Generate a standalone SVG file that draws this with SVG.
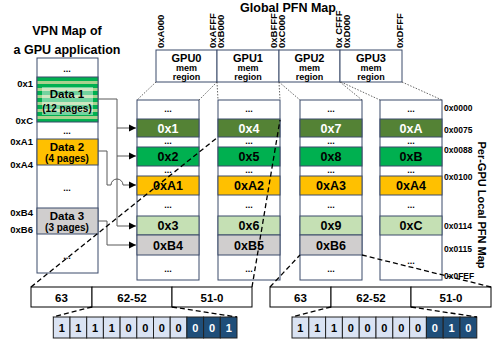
<svg xmlns="http://www.w3.org/2000/svg" width="492" height="347" viewBox="0 0 492 347">
<style>
.t{font-family:"Liberation Sans",Arial,sans-serif;font-weight:bold;fill:#000}
.m{text-anchor:middle}
.e{text-anchor:end}
.w{fill:#fff}
.cell{stroke:#3b4a6b;stroke-width:1}
.wh{fill:#fff}
.dg{fill:#548235}
.gr{fill:#00b050}
.ye{fill:#ffc000}
.lg{fill:#c5e0b4}
.gy{fill:#d0cece}
.bl{fill:#dae3f3;stroke:#222;stroke-width:1}
.bd{fill:#1f4e79;stroke:#222;stroke-width:1}
.dot{stroke:#555;stroke-width:0.9;stroke-dasharray:1.5 1.5;fill:none}
.dash{stroke:#000;stroke-width:1.3;stroke-dasharray:5 3;fill:none}
.con{stroke:#595959;stroke-width:1;fill:none}
.ct{font-size:12.5px}
.ad{font-size:9.5px}
</style>
<defs>
<marker id="ah" markerWidth="8" markerHeight="8" refX="7" refY="4" orient="auto" markerUnits="userSpaceOnUse">
<path d="M0,0.5 L7,4 L0,7.5 Z" fill="#000"/>
</marker>
</defs>

<!-- Titles -->
<text class="t m" x="67" y="35" font-size="12.5">VPN Map of</text>
<text class="t m" x="67" y="54" font-size="12.5">a GPU application</text>
<text class="t m" x="288" y="12" font-size="12.5">Global PFN Map</text>
<text class="t m" font-size="11" transform="translate(478,205) rotate(90)">Per-GPU Local PFN Map</text>

<!-- VPN map column -->
<g id="vpn-map">
<rect class="cell wh" x="37" y="58" width="61" height="215"/>
<text class="t m" x="67" y="72" font-size="9">...</text>
<g id="data1">
<rect x="37" y="77" width="61" height="45" fill="#00b050"/>
<rect x="37" y="81" width="61" height="3" fill="#a9d18e"/>
<rect x="37" y="88" width="61" height="3" fill="#a9d18e"/>
<rect x="37" y="95" width="61" height="3" fill="#a9d18e"/>
<rect x="37" y="102" width="61" height="3" fill="#a9d18e"/>
<rect x="37" y="109" width="61" height="3" fill="#a9d18e"/>
<rect x="37" y="116" width="61" height="3" fill="#a9d18e"/>
<rect x="42" y="87" width="51" height="28" fill="#fff" fill-opacity="0.45"/>
<rect class="cell" x="37" y="77" width="61" height="45" fill="none"/>
<text class="t m" x="67" y="98" font-size="11.5">Data 1</text>
<text class="t m" x="67" y="112" font-size="10">(12 pages)</text>
</g>
<text class="t m" x="67" y="134" font-size="9">...</text>
<g id="data2">
<rect class="cell ye" x="37" y="139" width="61" height="26"/>
<text class="t m" x="67" y="151" font-size="11.5">Data 2</text>
<text class="t m" x="67" y="162" font-size="10">(4 pages)</text>
</g>
<text class="t m" x="67" y="191" font-size="9">...</text>
<g id="data3">
<rect class="cell gy" x="37" y="208" width="61" height="26"/>
<text class="t m" x="67" y="220" font-size="11.5">Data 3</text>
<text class="t m" x="67" y="231" font-size="10">(3 pages)</text>
</g>
<text class="t m" x="67" y="259" font-size="9">...</text>
<text class="t e" x="33" y="87" font-size="9.5">0x1</text>
<text class="t e" x="33" y="124" font-size="9.5">0xC</text>
<text class="t e" x="33" y="145" font-size="9.5">0xA1</text>
<text class="t e" x="33" y="168" font-size="9.5">0xA4</text>
<text class="t e" x="33" y="216" font-size="9.5">0xB4</text>
<text class="t e" x="33" y="233" font-size="9.5">0xB6</text>
</g>

<!-- Global PFN map -->
<g id="gpu0-region">
<rect class="cell wh" x="156" y="50" width="61" height="32"/>
<text class="t m" x="186.5" y="62" font-size="11">GPU0</text>
<text class="t m" x="186.5" y="71" font-size="9">mem</text>
<text class="t m" x="186.5" y="80" font-size="9">region</text>
</g>
<g id="gpu1-region">
<rect class="cell wh" x="217" y="50" width="62" height="32"/>
<text class="t m" x="248" y="62" font-size="11">GPU1</text>
<text class="t m" x="248" y="71" font-size="9">mem</text>
<text class="t m" x="248" y="80" font-size="9">region</text>
</g>
<g id="gpu2-region">
<rect class="cell wh" x="279" y="50" width="61" height="32"/>
<text class="t m" x="309.5" y="62" font-size="11">GPU2</text>
<text class="t m" x="309.5" y="71" font-size="9">mem</text>
<text class="t m" x="309.5" y="80" font-size="9">region</text>
</g>
<g id="gpu3-region">
<rect class="cell wh" x="340" y="50" width="62" height="32"/>
<text class="t m" x="371" y="62" font-size="11">GPU3</text>
<text class="t m" x="371" y="71" font-size="9">mem</text>
<text class="t m" x="371" y="80" font-size="9">region</text>
</g>
<g id="addr-labels">
<text class="t ad" transform="translate(164,48) rotate(-90)">0xA000</text>
<text class="t ad" transform="translate(216,48) rotate(-90)">0xAFFF</text>
<text class="t ad" transform="translate(224,48) rotate(-90)">0xB000</text>
<text class="t ad" transform="translate(277,48) rotate(-90)">0xBFFF</text>
<text class="t ad" transform="translate(285,48) rotate(-90)">0xC000</text>
<text class="t ad" transform="translate(342,48) rotate(-90)">0x CFFF</text>
<text class="t ad" transform="translate(350,48) rotate(-90)">0xD000</text>
<text class="t ad" transform="translate(403,48) rotate(-90)">0xDFFF</text>
</g>

<!-- Per-GPU columns -->
<g id="gpu0-col">
<rect class="cell wh" x="137" y="100" width="62" height="180"/>
<rect class="cell dg" x="137" y="119" width="62" height="18"/>
<rect class="cell gr" x="137" y="147" width="62" height="19"/>
<rect class="cell ye" x="137" y="176" width="62" height="19"/>
<rect class="cell lg" x="137" y="216" width="62" height="19"/>
<rect class="cell gy" x="137" y="235" width="62" height="20"/>
<text class="t m" x="168" y="112" font-size="9">...</text>
<text class="t m w ct" x="168" y="132.5">0x1</text>
<text class="t m" x="168" y="144" font-size="9">...</text>
<text class="t m ct" x="168" y="161">0x2</text>
<text class="t m" x="168" y="173" font-size="9">...</text>
<text class="t m ct" x="168" y="190">0xA1</text>
<text class="t m" x="168" y="208" font-size="9">...</text>
<text class="t m ct" x="168" y="230">0x3</text>
<text class="t m ct" x="168" y="249.5">0xB4</text>
<text class="t m" x="168" y="272" font-size="9">...</text>
</g>
<g id="gpu1-col">
<rect class="cell wh" x="218" y="100" width="62" height="180"/>
<rect class="cell dg" x="218" y="119" width="62" height="18"/>
<rect class="cell gr" x="218" y="147" width="62" height="19"/>
<rect class="cell ye" x="218" y="176" width="62" height="19"/>
<rect class="cell lg" x="218" y="216" width="62" height="19"/>
<rect class="cell gy" x="218" y="235" width="62" height="20"/>
<text class="t m" x="249" y="112" font-size="9">...</text>
<text class="t m w ct" x="249" y="132.5">0x4</text>
<text class="t m" x="249" y="144" font-size="9">...</text>
<text class="t m ct" x="249" y="161">0x5</text>
<text class="t m" x="249" y="173" font-size="9">...</text>
<text class="t m ct" x="249" y="190">0xA2</text>
<text class="t m" x="249" y="208" font-size="9">...</text>
<text class="t m ct" x="249" y="230">0x6</text>
<text class="t m ct" x="249" y="249.5">0xB5</text>
<text class="t m" x="249" y="272" font-size="9">...</text>
</g>
<g id="gpu2-col">
<rect class="cell wh" x="300" y="100" width="62" height="180"/>
<rect class="cell dg" x="300" y="119" width="62" height="18"/>
<rect class="cell gr" x="300" y="147" width="62" height="19"/>
<rect class="cell ye" x="300" y="176" width="62" height="19"/>
<rect class="cell lg" x="300" y="216" width="62" height="19"/>
<rect class="cell gy" x="300" y="235" width="62" height="20"/>
<text class="t m" x="331" y="112" font-size="9">...</text>
<text class="t m w ct" x="331" y="132.5">0x7</text>
<text class="t m" x="331" y="144" font-size="9">...</text>
<text class="t m ct" x="331" y="161">0x8</text>
<text class="t m" x="331" y="173" font-size="9">...</text>
<text class="t m ct" x="331" y="190">0xA3</text>
<text class="t m" x="331" y="208" font-size="9">...</text>
<text class="t m ct" x="331" y="230">0x9</text>
<text class="t m ct" x="331" y="249.5">0xB6</text>
<text class="t m" x="331" y="272" font-size="9">...</text>
</g>
<g id="gpu3-col">
<rect class="cell wh" x="380" y="100" width="62" height="180"/>
<rect class="cell dg" x="380" y="119" width="62" height="18"/>
<rect class="cell gr" x="380" y="147" width="62" height="19"/>
<rect class="cell ye" x="380" y="176" width="62" height="19"/>
<rect class="cell lg" x="380" y="216" width="62" height="19"/>
<text class="t m" x="411" y="112" font-size="9">...</text>
<text class="t m w ct" x="411" y="132.5">0xA</text>
<text class="t m" x="411" y="144" font-size="9">...</text>
<text class="t m ct" x="411" y="161">0xB</text>
<text class="t m" x="411" y="173" font-size="9">...</text>
<text class="t m ct" x="411" y="190">0xA4</text>
<text class="t m" x="411" y="208" font-size="9">...</text>
<text class="t m ct" x="411" y="230">0xC</text>
<text class="t m" x="411" y="264" font-size="9">...</text>
</g>
<g id="local-addr">
<text class="t" x="444" y="111" font-size="8.5">0x0000</text>
<text class="t" x="444" y="133" font-size="8.5">0x0075</text>
<text class="t" x="444" y="153" font-size="8.5">0x0088</text>
<text class="t" x="444" y="180" font-size="8.5">0x0100</text>
<text class="t" x="444" y="229" font-size="8.5">0x0114</text>
<text class="t" x="444" y="252" font-size="8.5">0x0115</text>
<text class="t" x="444" y="279" font-size="8.5">0x0FEF</text>
</g>

<!-- Bit fields -->
<g id="pte-left">
<rect x="31" y="287" width="61" height="20" fill="#fff" stroke="#000" stroke-width="1"/>
<rect x="92" y="287" width="80" height="20" fill="#fff" stroke="#000" stroke-width="1"/>
<rect x="172" y="287" width="80" height="20" fill="#fff" stroke="#000" stroke-width="1"/>
<text class="t m" x="61.5" y="301.5" font-size="11.5">63</text>
<text class="t m" x="132" y="301.5" font-size="11.5">62-52</text>
<text class="t m" x="212" y="301.5" font-size="11.5">51-0</text>
</g>
<g id="pte-right">
<rect x="270" y="287" width="61" height="20" fill="#fff" stroke="#000" stroke-width="1"/>
<rect x="331" y="287" width="80" height="20" fill="#fff" stroke="#000" stroke-width="1"/>
<rect x="411" y="287" width="80" height="20" fill="#fff" stroke="#000" stroke-width="1"/>
<text class="t m" x="300.5" y="301.5" font-size="11.5">63</text>
<text class="t m" x="371" y="301.5" font-size="11.5">62-52</text>
<text class="t m" x="451" y="301.5" font-size="11.5">51-0</text>
</g>
<g id="bits-left">
<rect class="bl" x="53.3" y="317" width="16.7" height="21"/>
<rect class="bl" x="70" y="317" width="16.7" height="21"/>
<rect class="bl" x="86.7" y="317" width="16.7" height="21"/>
<rect class="bl" x="103.4" y="317" width="16.7" height="21"/>
<rect class="bl" x="120.1" y="317" width="16.7" height="21"/>
<rect class="bl" x="136.8" y="317" width="16.7" height="21"/>
<rect class="bl" x="153.5" y="317" width="16.7" height="21"/>
<rect class="bl" x="170.2" y="317" width="16.7" height="21"/>
<rect class="bd" x="186.9" y="317" width="16.7" height="21"/>
<rect class="bd" x="203.6" y="317" width="16.7" height="21"/>
<rect class="bd" x="220.3" y="317" width="16.7" height="21"/>
<text class="t m" x="61.7" y="331.5" font-size="11">1</text>
<text class="t m" x="78.4" y="331.5" font-size="11">1</text>
<text class="t m" x="95.1" y="331.5" font-size="11">1</text>
<text class="t m" x="111.8" y="331.5" font-size="11">1</text>
<text class="t m" x="128.5" y="331.5" font-size="11">0</text>
<text class="t m" x="145.2" y="331.5" font-size="11">0</text>
<text class="t m" x="161.9" y="331.5" font-size="11">0</text>
<text class="t m" x="178.6" y="331.5" font-size="11">0</text>
<text class="t m w" x="195.3" y="331.5" font-size="11">0</text>
<text class="t m w" x="212" y="331.5" font-size="11">0</text>
<text class="t m w" x="228.7" y="331.5" font-size="11">1</text>
</g>
<g id="bits-right">
<rect class="bl" x="292" y="317" width="16.8" height="21"/>
<rect class="bl" x="308.8" y="317" width="16.8" height="21"/>
<rect class="bl" x="325.6" y="317" width="16.8" height="21"/>
<rect class="bl" x="342.4" y="317" width="16.8" height="21"/>
<rect class="bl" x="359.2" y="317" width="16.8" height="21"/>
<rect class="bl" x="376" y="317" width="16.8" height="21"/>
<rect class="bl" x="392.8" y="317" width="16.8" height="21"/>
<rect class="bl" x="409.6" y="317" width="16.8" height="21"/>
<rect class="bd" x="426.4" y="317" width="16.8" height="21"/>
<rect class="bd" x="443.2" y="317" width="16.8" height="21"/>
<rect class="bd" x="460" y="317" width="16.8" height="21"/>
<text class="t m" x="300.4" y="331.5" font-size="11">1</text>
<text class="t m" x="317.2" y="331.5" font-size="11">1</text>
<text class="t m" x="334" y="331.5" font-size="11">1</text>
<text class="t m" x="350.8" y="331.5" font-size="11">0</text>
<text class="t m" x="367.6" y="331.5" font-size="11">0</text>
<text class="t m" x="384.4" y="331.5" font-size="11">0</text>
<text class="t m" x="401.2" y="331.5" font-size="11">0</text>
<text class="t m" x="418" y="331.5" font-size="11">0</text>
<text class="t m w" x="434.8" y="331.5" font-size="11">0</text>
<text class="t m w" x="451.6" y="331.5" font-size="11">1</text>
<text class="t m w" x="468.4" y="331.5" font-size="11">0</text>
</g>

<!-- Connectors -->
<g id="connectors">
<path class="dot" d="M156,82 L137,100 M217,82 L199,100 M217,82 L218,100 M279,82 L280,100 M279,82 L300,100 M340,82 L362,100 M341,82 L380,100 M402,82 L442,100"/>
<path class="con" d="M98,99 H117 V226 H136" marker-end="url(#ah)"/>
<path class="con" d="M117,128 H136" marker-end="url(#ah)"/>
<path class="con" d="M117,156 H136" marker-end="url(#ah)"/>
<path class="con" d="M98,151 H107 V185 H111 A6,6 0 0 1 123,185 H136" marker-end="url(#ah)"/>
<path class="con" d="M98,221 H107 V245 H136" marker-end="url(#ah)"/>
<path class="dash" d="M31,287 L218,137"/>
<path class="dash" d="M252,287 L280,120"/>
<path class="dash" d="M270,287 L300,255"/>
<path class="dash" d="M491,287 L362,255"/>
<path class="dash" d="M92,307 L53,317 M172,307 L237,317"/>
<path class="dash" d="M331,307 L292,317 M411,307 L477,317"/>
</g>
</svg>
